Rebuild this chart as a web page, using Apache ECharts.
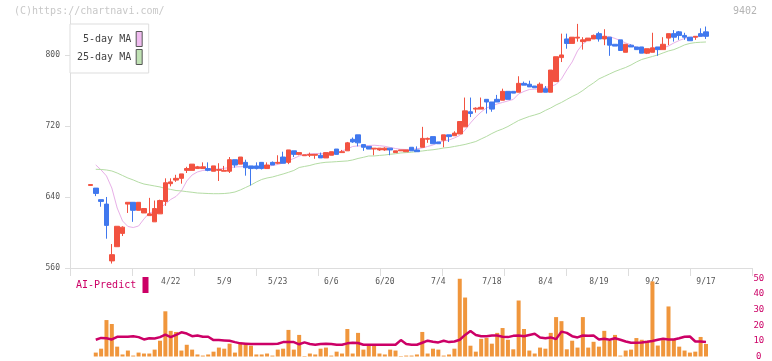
<!DOCTYPE html>
<html><head><meta charset="utf-8">
<script src="https://cdn.jsdelivr.net/npm/echarts@6/dist/echarts.min.js"></script>
<style>html,body{margin:0;padding:0;background:#fff}#c{width:772px;height:361px}</style>
</head><body><div id="c"></div>
<script>
// ---- data ----
const dates = ['4/1','4/2','4/3','4/4','4/7','4/8','4/9','4/10','4/11','4/14','4/15','4/16','4/17','4/18','4/21','4/22','4/23','4/24','4/25','4/28','4/30',
'5/1','5/2','5/7','5/8','5/9','5/12','5/13','5/14','5/15','5/16','5/19','5/20','5/21','5/22','5/23','5/26','5/27','5/28','5/29','5/30',
'6/2','6/3','6/4','6/5','6/6','6/9','6/10','6/11','6/12','6/13','6/16','6/17','6/18','6/19','6/20','6/23','6/24','6/25','6/26','6/27','6/30',
'7/1','7/2','7/3','7/4','7/7','7/8','7/9','7/10','7/11','7/14','7/15','7/16','7/17','7/18','7/22','7/23','7/24','7/25','7/28','7/29','7/30','7/31',
'8/1','8/4','8/5','8/6','8/7','8/8','8/12','8/13','8/14','8/15','8/18','8/19','8/20','8/21','8/22','8/25','8/26','8/27','8/28','8/29',
'9/1','9/2','9/3','9/4','9/5','9/8','9/9','9/10','9/11','9/12','9/16','9/17'];
const labelDates = ['4/22','5/9','5/23','6/6','6/20','7/4','7/18','8/4','8/19','9/2','9/17'];
const opens = [653,650,637,632,568,584,599,632,634,625,622,619,612,621,635,655,659,661,670,670,672,
672,672,669,670,669,669,682,677,679,675,675,679,672,679,678,685,679,692,688,686.5,
687,687,687,684,687,694,690,692,705,710,699,697,694,693,693,695,690,692,691,696,693,
696,705,708,702,704,710,709,711,719,736,739,739,750,747,750,749,759,759,758,768,767,765,
758,762,758,770,797,818,813,819,815,816,818,824,818,820,812,817,803,811,809,809,
802,803,809,806,819,824,826,822,820,820,824,826];
const closes = [654,644,635,608,575,607,606,634,625,634,627,621,627,636,656,657,661,666,672,677,674,
674,670,675,671,670,682,676,685,673,672,672,672,676,676,679,678,693,688,690,687.5,
688,688,684,690,691,688,691,701,702,701,696,694,695,695,695,693,692,693,693,692,691,
706,706,700,700,710,708,712,725,737,734,740,741,747,739,747,759,750,757,768,766,764,763,
767,758,783,798,800,813,820,820,817,819,822,818,821,811,810,805,812,809,806,802,
807,808,806,812,824,820,822,820,816,821,821,821];
const lows = [653,641,629,593,565,584,596,622,612,625,622,619,612,621,630,652,657,655,667,670,672,
672,669,669,658,669,667,673,677,664,653,671,671,672,676,677,678,677,685,687,686.5,
685,683,684,684,687,688,690,692,701,697,692,694,687,692,692,687,690,692,691,692,691,
696,701,700,700,696,702,709,711,719,730,735,739,734,736,747,749,750,757,758,766,764,763,
758,758,758,770,792,807,813,815,806,816,818,815,811,799,810,805,803,809,806,802,
801,803,799,806,811,815,817,817,816,817,821,818];
const highs = [654,650,637,640,587,607,607,634,634,634,627,639,636,637,661,661,665,666,674,677,675,
679,679,675,678,675,685,682,685,682,675,679,679,679,680,687,691,693,692,690,687.5,
690,688,690,690,691,694,693,702,707,710,699,697,695,695,696,695,692,693,693,696,697,
719,707,708,702,710,710,714,725,752,752,741,752,750,747,755,762,759,759,776,770,771,765,
769,765,783,798,824,824,820,835,820,819,823,826,829,820,812,817,812,812,809,809,
807,825,809,820,824,828,827,825,820,821,830,832];
const ma5 = [null,676.1,670.4,663.7,650.1,627.6,613.0,606.8,605.6,607.3,615.2,622.0,623.7,627.0,632.1,637.2,640.6,646.8,658.0,664.8,668.2,
669.9,670.4,671.2,671.5,672.3,673.2,673.8,674.1,674.4,674.4,673.8,673.8,674.4,675.5,676.6,678.3,681.1,683.4,686.2,687.7,
688.5,689.0,689.0,688.5,688.5,689.6,691.8,694.1,696.9,697.5,697.5,698.0,698.3,697.8,697.1,695.8,694.6,693.7,693.5,693.7,694.3,
695.2,696.9,698.6,701.4,703.1,704.2,706.5,709.3,715.5,723.4,730.1,735.8,740.3,742.5,744.8,746.5,748.2,749.9,756.1,758.9,761.1,761.4,
761.4,763.4,764.5,766.8,773.0,783.1,792.1,804.5,812.4,816.9,819.2,820.3,820.3,820.6,818.6,816.3,813.5,811.3,808.5,806.8,
806.2,806.0,806.8,807.9,810.1,813.5,816.3,818.6,819.9,820.3,820.8,822.0];
const ma25 = [null,671.2,671.0,670.4,669.3,667.0,664.2,661.4,659.2,656.6,654.6,653.5,652.4,651.3,649.6,648.5,647.3,646.8,646.0,645.3,644.5,
644.2,643.9,643.7,643.7,643.9,644.5,645.6,647.9,650.7,653.5,656.9,659.7,661.4,662.5,664.2,665.9,667.8,669.9,673.2,674.4,
675.5,677.2,678.3,679.1,679.4,679.8,680.2,680.6,681.7,683.4,684.7,686.2,686.2,686.8,687.3,688.1,688.7,689.6,690.0,690.4,691.3,
691.8,692.6,693.2,694.1,695.2,695.8,696.9,698.0,699.2,700.8,702.5,705.4,708.2,711.5,714.4,716.6,719.4,722.8,726.2,728.5,730.7,732.4,
734.3,737.5,740.3,743.7,746.5,749.9,753.2,756.1,760.0,764.5,768.5,773.0,775.8,778.6,781.4,783.7,785.9,788.7,792.1,794.9,
796.6,798.3,800.0,802.3,804.5,806.0,808.5,811.3,813.0,813.9,814.3,814.6];
const volume = [null,2.5,5.0,23.3,20.8,6.3,1.3,3.8,0.6,2.5,1.9,1.9,4.4,10.1,28.9,16.4,15.7,3.8,7.5,4.4,1.3,
0.6,1.3,3.1,5.7,5.0,8.2,2.5,8.2,8.2,6.9,1.3,1.3,1.9,0.6,4.4,5.0,17.0,4.4,13.8,0.3,
1.9,1.3,5.0,5.7,0.6,3.1,1.9,17.6,1.9,15.1,4.4,6.9,6.9,1.9,1.3,4.4,3.8,0.3,0.6,0.6,1.3,
15.7,1.9,5.0,4.4,0.6,1.3,5.0,49.7,37.7,6.9,3.1,11.3,11.9,8.2,15.1,18.2,10.7,4.6,35.8,17.6,3.8,1.9,
5.7,5.0,15.1,25.2,22.6,4.6,10.1,5.7,25.2,5.7,9.4,6.3,16.4,10.1,13.8,0.6,3.8,4.4,11.8,10.7,
10.0,48.0,7.0,10.5,32.0,11.0,6.3,3.8,2.5,3.1,12.5,8.0];
const aiPredict = [null,10.7,11.9,11.7,10.9,12.6,12.6,12.6,13.0,12.4,10.9,11.7,11.5,12.4,14.0,12.4,13.8,15.5,14.7,13.0,13.4,
12.6,12.6,10.5,10.5,10.3,10.1,9.2,8.4,8.2,8.0,8.0,8.0,8.0,8.0,8.2,9.2,9.2,9.2,7.8,9.0,
8.0,7.5,8.0,8.2,8.0,7.5,7.5,8.4,8.8,8.6,7.5,7.5,7.5,7.5,7.5,7.5,7.5,10.5,8.0,7.5,7.5,
8.8,10.1,9.4,9.0,10.1,9.2,9.6,10.7,13.8,16.3,13.8,13.0,13.0,13.4,13.4,12.6,12.4,13.2,13.4,13.0,13.8,14.5,
12.2,11.7,12.2,11.1,15.9,15.1,13.0,12.2,13.4,13.2,13.4,10.9,11.3,10.7,11.7,10.7,9.6,8.8,8.8,9.0,
9.4,9.9,10.7,11.3,10.9,10.9,11.7,12.6,12.8,9.6,9.6,9.2];
const priceTicks = [560, 640, 720, 800];
const volTicks = [0, 10, 20, 30, 40, 50];

// ---- build ----
const LEAD = 4, TRAIL = 8;
const FONT = '"DejaVu Sans Mono", "Liberation Mono", monospace';
const cats = [];
for (let i = 0; i < LEAD; i++) cats.push('_a' + i);
dates.forEach(d => cats.push(d));
for (let i = 0; i < TRAIL; i++) cats.push('_b' + i);
const pad = arr => [...Array(LEAD).fill('-'), ...arr.map(v => v == null ? '-' : v), ...Array(TRAIL).fill('-')];
const candle = pad(dates.map((d, i) => [opens[i], closes[i], lows[i], highs[i]]));

const UP = '#f25240', DOWN = '#4078ee';
const chart = echarts.init(document.getElementById('c'));
chart.setOption({
  animation: false,
  backgroundColor: '#fff',
  textStyle: { fontFamily: FONT },
  grid: [
    { left: 69, right: 23.2, top: 15, bottom: 93 },
    { left: 70, right: 20, top: 15, bottom: 93 },
    { left: 69, right: 23.2, top: 278.3, bottom: 3 }
  ],
  legend: {
    left: 70, top: 24, orient: 'vertical', align: 'right',
    itemWidth: 6, itemHeight: 15, itemGap: 2,
    padding: [7, 6, 8, 7],
    backgroundColor: '#fff', borderColor: '#ddd', borderWidth: 1,
    textStyle: { fontFamily: FONT, fontSize: 10, color: '#444' },
    selectedMode: false,
    data: [
      { name: '5-day MA', icon: 'rect', itemStyle: { color: '#f0bcf0', borderColor: '#555', borderWidth: 1 } },
      { name: '25-day MA', icon: 'rect', itemStyle: { color: '#c0e2b4', borderColor: '#555', borderWidth: 1 } }
    ]
  },
  xAxis: [
    { gridIndex: 0, type: 'category', data: cats, boundaryGap: false,
      axisLine: { show: false }, axisTick: { show: false }, splitLine: { show: false },
      axisLabel: { interval: (idx, val) => labelDates.includes(val), formatter: v => v.startsWith('_') ? '' : v,
        fontSize: 8, color: '#555', margin: 10, fontFamily: FONT } },
    { gridIndex: 1, type: 'value', min: 0, max: 11, interval: 1,
      axisLine: { show: true, lineStyle: { color: '#ddd', width: 1 } },
      axisTick: { show: true, length: 8, lineStyle: { color: '#ddd', width: 1 } },
      axisLabel: { show: false }, splitLine: { show: false } },
    { gridIndex: 2, type: 'category', data: cats, boundaryGap: false, show: false }
  ],
  yAxis: [
    { gridIndex: 0, type: 'value', min: 560, max: 845, show: false, splitLine: { show: false } },
    { gridIndex: 1, type: 'value', min: 560, max: 845,
      axisLine: { show: true, lineStyle: { color: '#ddd' } },
      axisTick: { show: true, length: 5, customValues: priceTicks, lineStyle: { color: '#ddd' } },
      axisLabel: { customValues: priceTicks, fontSize: 8, color: '#555', margin: 10, fontFamily: FONT },
      splitLine: { show: false } },
    { gridIndex: 2, type: 'value', min: 0, max: 50, interval: 10, position: 'right',
      axisLine: { show: false }, axisTick: { show: false }, splitLine: { show: false },
      axisLabel: { customValues: volTicks, fontSize: 9, color: '#cc0066', margin: 10, align: 'center', fontFamily: FONT } }
  ],
  graphic: [
    { type: 'text', left: 14, top: 6, style: { text: '(C)https://chartnavi.com/', font: '10px ' + FONT, fill: '#c8c8c8' } },
    { type: 'text', left: 733, top: 6, style: { text: '9402', font: '10px ' + FONT, fill: '#b4b4b4' } },
    { type: 'text', left: 76, top: 280, style: { text: 'AI-Predict', font: '10px ' + FONT, fill: '#cc0066' } },
    { type: 'rect', shape: { x: 142.5, y: 277, width: 6, height: 16 }, style: { fill: '#cc0066' } }
  ],
  series: [
    { name: '5-day MA', type: 'line', xAxisIndex: 0, yAxisIndex: 0, data: pad(ma5), showSymbol: false,
      lineStyle: { color: '#e8b0e8', width: 1 }, itemStyle: { color: '#e8b0e8' }, z: 1 },
    { name: '25-day MA', type: 'line', xAxisIndex: 0, yAxisIndex: 0, data: pad(ma25), showSymbol: false,
      lineStyle: { color: '#b4dca4', width: 1 }, itemStyle: { color: '#b4dca4' }, z: 1 },
    { name: 'price', type: 'candlestick', xAxisIndex: 0, yAxisIndex: 0, data: candle, barWidth: 5, z: 3,
      itemStyle: { color: UP, color0: DOWN, borderColor: UP, borderColor0: DOWN, borderWidth: 1 } },
    { name: 'volume', type: 'bar', xAxisIndex: 2, yAxisIndex: 2, data: pad(volume), barWidth: 4,
      itemStyle: { color: '#f0963c' }, z: 1 },
    { name: 'AI-Predict', type: 'line', xAxisIndex: 2, yAxisIndex: 2, data: pad(aiPredict), showSymbol: false,
      lineStyle: { color: '#cc0066', width: 2.5 }, itemStyle: { color: '#cc0066' }, z: 2 }
  ]
});
</script>
</body></html>
